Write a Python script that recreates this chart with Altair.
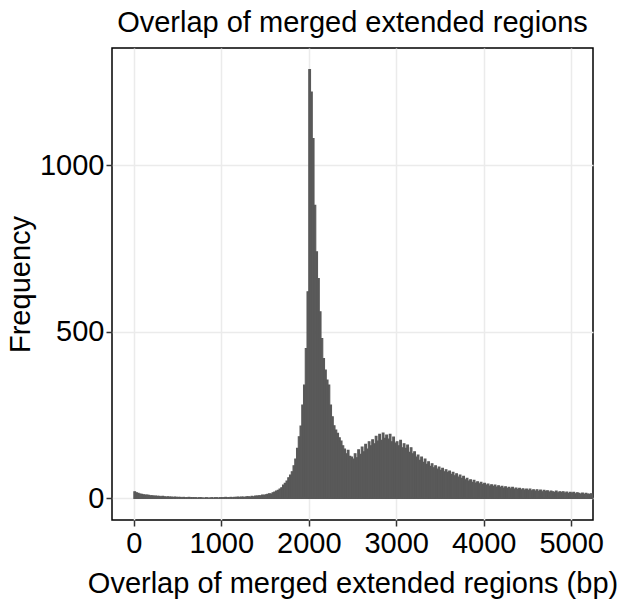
import altair as alt
import pandas as pd

# Histogram of overlap lengths (bp), bin width 20, bins starting at 0
bin_width = 20
counts = [
    20, 17, 15, 13, 12,      # 0-100
    11, 10, 10, 9, 8,        # 100-200
    8, 7, 7, 6, 6,           # 200-300
    5, 6, 5, 4, 5,           # 300-400
    4, 4, 3, 4, 3,           # 400-500
    3, 3, 2, 3, 2,           # 500-600
    2, 3, 2, 2, 2,           # 600-700
    2, 1, 2, 2, 1,           # 700-800
    1, 2, 1, 1, 2,           # 800-900
    1, 2, 2, 1, 2,           # 900-1000
    2, 2, 3, 2, 2,           # 1000-1100
    3, 2, 3, 3, 4,           # 1100-1200
    3, 4, 4, 3, 5,           # 1200-1300
    5, 4, 6, 5, 7,           # 1300-1400
    7, 8, 8, 10, 9,          # 1400-1500
    11, 12, 14, 13, 17,      # 1500-1600
    19, 22, 24, 28, 32,      # 1600-1700
    40, 45, 52, 62, 70,      # 1700-1800
    80, 98, 118, 150, 185,   # 1800-1900
    217, 280, 340, 450, 620, # 1900-2000
    1287, 1220, 1080, 880, 740,  # 2000-2100
    660, 560, 480, 420, 385,     # 2100-2200
    355, 340, 280, 245, 218,     # 2200-2300
    205, 195, 182, 172, 158,     # 2300-2400
    148, 134, 144, 126, 124,     # 2400-2500
    118, 134, 122, 146, 132,     # 2500-2600
    154, 140, 162, 148, 170,     # 2600-2700
    158, 176, 164, 186, 172,     # 2700-2800
    192, 174, 196, 180, 190,     # 2800-2900
    178, 192, 170, 184, 166,     # 2900-3000
    170, 158, 174, 152, 164,     # 3000-3100
    150, 160, 138, 152, 134,     # 3100-3200
    140, 124, 130, 114, 124,     # 3200-3300
    108, 118, 102, 110, 96,      # 3300-3400
    104, 92, 98, 88, 94,         # 3400-3500
    84, 90, 80, 86, 78,          # 3500-3600
    82, 72, 78, 68, 74,          # 3600-3700
    64, 70, 60, 66, 56,          # 3700-3800
    60, 52, 56, 48, 54,          # 3800-3900
    46, 50, 44, 48, 42,          # 3900-4000
    45, 40, 43, 37, 41,          # 4000-4100
    36, 40, 34, 38, 33,          # 4100-4200
    36, 31, 35, 30, 33,          # 4200-4300
    29, 33, 28, 31, 27,          # 4300-4400
    30, 26, 29, 25, 28,          # 4400-4500
    24, 28, 23, 26, 22,          # 4500-4600
    26, 21, 25, 20, 24,          # 4600-4700
    21, 23, 19, 22, 20,          # 4700-4800
    18, 22, 17, 20, 18,          # 4800-4900
    20, 16, 19, 15, 18,          # 4900-5000
    16, 18, 14, 17, 15,          # 5000-5100
    13, 16, 12, 15, 13,          # 5100-5200
    12, 14, 11,                  # 5200-5260
]

x_ticks = [0, 1000, 2000, 3000, 4000, 5000]
y_ticks = [0, 500, 1000]
x_domain = [-250, 5250]
y_domain = [-65, 1352]

df = pd.DataFrame({
    "start": [i * bin_width for i in range(len(counts))],
    "end": [(i + 1) * bin_width for i in range(len(counts))],
    "count": counts,
})

FONT = "Liberation Sans"
FS = 29

chart = alt.Chart(df).mark_bar(color="#595959", clip=True, stroke="#595959",
                               strokeWidth=1.1).encode(
    x=alt.X("start:Q",
            scale=alt.Scale(domain=x_domain, nice=False, zero=False),
            axis=alt.Axis(values=x_ticks, title="Overlap of merged extended regions (bp)",
                          format="d", labelFontSize=FS, titleFontSize=FS,
                          labelPadding=3, titlePadding=11, tickSize=6,
                          grid=True)),
    x2="end:Q",
    y=alt.Y("count:Q",
            scale=alt.Scale(domain=y_domain, nice=False, zero=False),
            axis=alt.Axis(values=y_ticks, title="Frequency", format="d",
                          labelFontSize=FS, titleFontSize=FS,
                          labelPadding=2, titlePadding=4, tickSize=6,
                          grid=True)),
    y2=alt.datum(0),
).properties(
    width=481,
    height=472,
    title=alt.TitleParams("Overlap of merged extended regions", fontSize=FS,
                          font=FONT, fontWeight="normal", anchor="middle",
                          offset=10, color="black"),
    autosize=alt.AutoSizeParams(type="none"),
    padding={"left": 112, "top": 48, "right": 29, "bottom": 86},
).configure_view(
    stroke="black", strokeWidth=1.5
).configure_axis(
    labelFont=FONT, titleFont=FONT, labelColor="black", titleColor="black",
    titleFontWeight="normal", tickColor="#333333", tickWidth=1.5,
    domain=False, gridColor="#EBEBEB", gridWidth=1.5,
)

chart.save("out.html", embed_options={"renderer": "svg", "actions": False})
